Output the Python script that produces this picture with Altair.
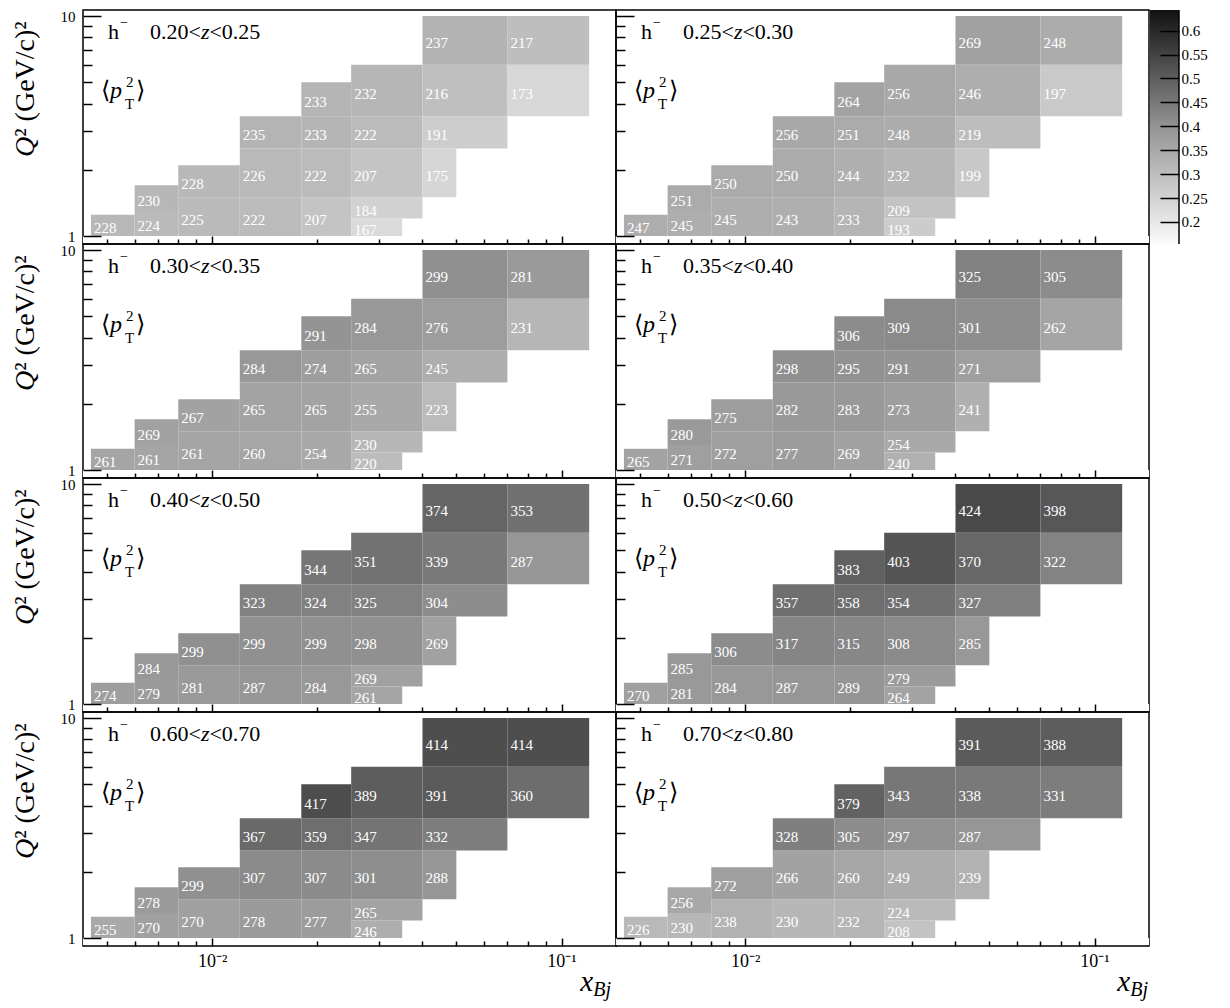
import altair as alt
import pandas as pd

SERIF = "Liberation Serif"

# ---- bin edges of the 23 (x_Bj, Q^2) cells, identical in every panel ----
X_LO = [0.0045, 0.006, 0.006, 0.008, 0.008, 0.012, 0.012, 0.012, 0.018, 0.018, 0.018, 0.018,
        0.025, 0.025, 0.025, 0.025, 0.025, 0.04, 0.04, 0.04, 0.04, 0.07, 0.07]
X_HI = [0.006, 0.008, 0.008, 0.012, 0.012, 0.018, 0.018, 0.018, 0.025, 0.025, 0.025, 0.025,
        0.035, 0.04, 0.04, 0.04, 0.04, 0.05, 0.07, 0.07, 0.07, 0.12, 0.12]
Q_LO = [1, 1, 1.3, 1, 1.5, 1, 1.5, 2.5, 1, 1.5, 2.5, 3.5, 1, 1.2, 1.5, 2.5, 3.5, 1.5, 2.5, 3.5, 6, 3.5, 6]
Q_HI = [1.25, 1.3, 1.7, 1.5, 2.1, 1.5, 2.5, 3.5, 1.5, 2.5, 3.5, 5, 1.2, 1.5, 2.5, 3.5, 6, 2.5, 3.5, 6, 10, 6, 10]

# ---- z ranges of the 8 panels ----
Z_LO = ["0.20", "0.25", "0.30", "0.35", "0.40", "0.50", "0.60", "0.70"]
Z_HI = ["0.25", "0.30", "0.35", "0.40", "0.50", "0.60", "0.70", "0.80"]

# ---- <pT^2> values (x 10^-3 GeV^2), cell order as above ----
PT2_1 = [228, 224, 230, 225, 228, 222, 226, 235, 207, 222, 233, 233, 167, 184, 207, 222, 232, 175, 191, 216, 237, 173, 217]
PT2_2 = [247, 245, 251, 245, 250, 243, 250, 256, 233, 244, 251, 264, 193, 209, 232, 248, 256, 199, 219, 246, 269, 197, 248]
PT2_3 = [261, 261, 269, 261, 267, 260, 265, 284, 254, 265, 274, 291, 220, 230, 255, 265, 284, 223, 245, 276, 299, 231, 281]
PT2_4 = [265, 271, 280, 272, 275, 277, 282, 298, 269, 283, 295, 306, 240, 254, 273, 291, 309, 241, 271, 301, 325, 262, 305]
PT2_5 = [274, 279, 284, 281, 299, 287, 299, 323, 284, 299, 324, 344, 261, 269, 298, 325, 351, 269, 304, 339, 374, 287, 353]
PT2_6 = [270, 281, 285, 284, 306, 287, 317, 357, 289, 315, 358, 383, 264, 279, 308, 354, 403, 285, 327, 370, 424, 322, 398]
PT2_7 = [255, 270, 278, 270, 299, 278, 307, 367, 277, 307, 359, 417, 246, 265, 301, 347, 389, 288, 332, 391, 414, 360, 414]
PT2_8 = [226, 230, 256, 238, 272, 230, 266, 328, 232, 260, 305, 379, 208, 224, 249, 297, 343, 239, 287, 338, 391, 331, 388]
PT2 = [PT2_1, PT2_2, PT2_3, PT2_4, PT2_5, PT2_6, PT2_7, PT2_8]

# ---- ticks ----
X_MAJOR = [0.01, 0.1]
X_MINOR = [0.005, 0.006, 0.007, 0.008, 0.009, 0.02, 0.03, 0.04, 0.05, 0.06, 0.07, 0.08, 0.09]
Y_MAJOR = [1, 10]
Y_MINOR = [2, 3, 4, 5, 6, 7, 8, 9]
CB_TICKS = [0.2, 0.25, 0.3, 0.35, 0.4, 0.45, 0.5, 0.55, 0.6]

X_DOMAIN = [0.00427, 0.1432]
Y_DOMAIN = [0.920, 10.65]
C_DOMAIN = [150, 450]
C_RANGE = ["#e4e4e4", "#3a3a3a"]
CB_DOMAIN = [0.154, 0.643]

W = 533
H = 234
CBW = 29


def txt(s, x, y, size, italic=False, align="left", baseline="alphabetic", angle=0, color="black"):
    kw = dict(text=s, font=SERIF, fontSize=size, align=align, baseline=baseline, color=color)
    if italic:
        kw["fontStyle"] = "italic"
    if angle:
        kw["angle"] = angle
    return alt.Chart(alt.Data(values=[{"a": 0}])).mark_text(**kw).encode(
        x=alt.value(x), y=alt.value(y))


def panel(i, left, bottom):
    df = pd.DataFrame({"x1": X_LO, "x2": X_HI, "q1": Q_LO, "q2": Q_HI, "v": PT2[i]})
    xs = alt.Scale(type="log", domain=X_DOMAIN, nice=False)
    ys = alt.Scale(type="log", domain=Y_DOMAIN, nice=False)
    cs = alt.Scale(domain=C_DOMAIN, range=C_RANGE, interpolate="rgb", clamp=True)

    ax_x = alt.Axis(orient="bottom", values=X_MAJOR, tickSize=8, offset=-8, domain=False, grid=False,
                    labels=bottom, labelExpr="datum.value < 0.05 ? '10⁻²' : '10⁻¹'",
                    labelFont=SERIF, labelFontSize=18, labelPadding=6, labelColor="black",
                    tickColor="black", tickWidth=1.5, title=None, zindex=1)
    ax_y = alt.Axis(orient="left", values=Y_MAJOR, tickSize=18, offset=-18, domain=False, grid=False,
                    labels=left, format="d", labelFont=SERIF, labelFontSize=15, labelPadding=8,
                    labelColor="black", tickColor="black", tickWidth=1.5, title=None, zindex=1)
    ax_xm = alt.Axis(orient="bottom", values=X_MINOR, tickSize=5, offset=-5, domain=False, grid=False,
                     labels=False, tickColor="black", tickWidth=1.5, title=None, zindex=1)
    ax_ym = alt.Axis(orient="left", values=Y_MINOR, tickSize=9, offset=-9, domain=False, grid=False,
                     labels=False, tickColor="black", tickWidth=1.5, title=None, zindex=1)

    base = alt.Chart(df)
    cells = base.mark_rect().encode(
        x=alt.X("x1:Q", scale=xs, axis=ax_x), x2="x2:Q",
        y=alt.Y("q1:Q", scale=ys, axis=ax_y), y2="q2:Q",
        color=alt.Color("v:Q", scale=cs, legend=None),
    )
    minor = base.mark_rect(opacity=0).encode(
        x=alt.X("x1:Q", scale=xs, axis=ax_xm), x2="x2:Q",
        y=alt.Y("q1:Q", scale=ys, axis=ax_ym), y2="q2:Q",
    )
    nums = base.transform_calculate(qc="sqrt(datum.q1 * datum.q2)").mark_text(
        align="left", baseline="middle", dx=3, dy=3, font=SERIF, fontSize=15, color="white"
    ).encode(
        x=alt.X("x1:Q", scale=xs, axis=None),
        y=alt.Y("qc:Q", scale=ys, axis=None),
        text="v:Q",
    )
    mask = alt.Chart(alt.Data(values=[{"a": 0}])).mark_rect(color="white").encode(
        x=alt.value(0), x2=alt.value(W),
        y=alt.YDatum(1, axis=None), y2=alt.value(H - 1),
    )

    zlo, zhi = Z_LO[i], Z_HI[i]
    s = 22
    x0 = 67
    xz = x0 + (0.5 * 3 + 0.25 + 0.564) * s
    xr = xz + 0.389 * s
    ann = [
        txt("h", 25, 29, s),
        txt("−", 37, 17, 14),
        txt(zlo + "<", x0, 29, s),
        txt("z", xz, 29, s, italic=True),
        txt("<" + zhi, xr, 29, s),
        txt("⟨", 18, 88, 24),
        txt("p", 27, 88, 24, italic=True),
        txt("2", 43, 77, 15),
        txt("T", 42, 99, 15),
        txt("⟩", 53, 88, 24),
    ]
    if left:
        ann += [
            txt("Q", -49, 147, 28, italic=True, angle=270),
            txt("² (GeV/c)²", -49, 147 - 0.722 * 28, 28, angle=270),
        ]
    if bottom:
        end = 528 if left else 532
        ann += [
            txt("x", end - 18, H + 45, 29, italic=True, align="right"),
            txt("Bj", end, H + 50, 20, italic=True, align="right"),
        ]

    return alt.layer(cells, nums, mask, minor, *ann).resolve_axis(
        x="independent", y="independent")


def colorbar():
    grad = alt.LinearGradient(
        gradient="linear",
        stops=[alt.GradientStop(offset=0, color="#111111"),
               alt.GradientStop(offset=0.5, color="#949494"),
               alt.GradientStop(offset=1, color="#fbfbfb")],
        x1=0, x2=0, y1=0, y2=1,
    )
    x_left = W + 1
    x_right = W + 1 + CBW
    bar = alt.Chart(alt.Data(values=[{"lo": CB_DOMAIN[0], "hi": CB_DOMAIN[1]}])).mark_rect(
        color=grad).encode(
        x=alt.value(x_left), x2=alt.value(x_right),
        y=alt.Y("lo:Q", scale=alt.Scale(domain=CB_DOMAIN, nice=False, zero=False),
                axis=alt.Axis(orient="right", values=CB_TICKS, format="~g", tickSize=19,
                              offset=x_right - W - 19,
                              domain=False, grid=False, labelFont=SERIF, labelFontSize=15,
                              labelPadding=2, labelColor="black", tickColor="black",
                              tickWidth=1.5, title=None, zindex=1)),
        y2="hi:Q",
    )
    edge = alt.Chart(alt.Data(values=[{"a": 0}])).mark_rule(color="black", strokeWidth=1.5).encode(
        x=alt.value(x_right), y=alt.value(0), y2=alt.value(H))
    return alt.layer(bar, edge)


panels = []
for i in range(8):
    left = i % 2 == 0
    bottom = i >= 6
    p = panel(i, left, bottom)
    if i == 1:
        p = alt.layer(p, colorbar()).resolve_scale(y="independent").resolve_axis(y="independent")
    panels.append(p.properties(width=W, height=H))

chart = alt.concat(*panels, columns=2, spacing=0, bounds="flush").properties(
    padding={"left": 3, "top": 0, "right": 0, "bottom": 0},
    background="white",
).configure(font=SERIF).configure_view(stroke="black", strokeWidth=1.5)

chart.save("out.html", embed_options={"renderer": "svg", "actions": False})
